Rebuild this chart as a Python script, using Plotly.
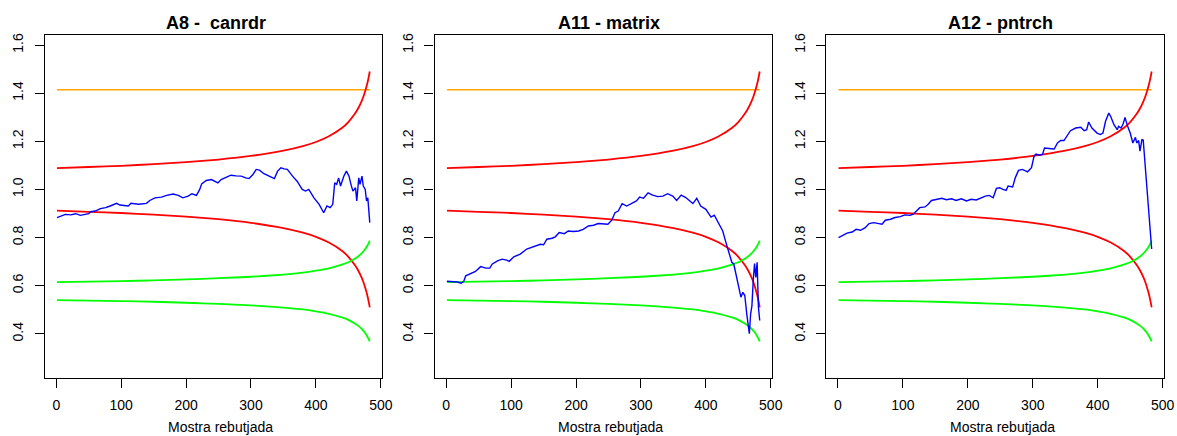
import plotly.graph_objects as go

# ---------------- data ----------------
panel_titles = ["A8 - \u00a0canrdr", "A11 - matrix", "A12 - pntrch"]
x_label = "Mostra rebutjada"

x_ticks = [0, 100, 200, 300, 400, 500]
y_ticks = [0.4, 0.6, 0.8, 1.0, 1.2, 1.4, 1.6]
y_tick_labels = ["0.4", "0.6", "0.8", "1.0", "1.2", "1.4", "1.6"]

# reference (orange) level
ref_x = [1, 483]
ref_y = [1.414, 1.414]

# band curves (same in every panel)
band_x = [1, 50, 100, 150, 200, 250, 300, 350, 380, 400,
          420, 440, 450, 460, 465, 470, 473, 476, 479, 481, 483]
red_upper = [1.088, 1.093, 1.098, 1.105, 1.113, 1.124, 1.139, 1.161, 1.180, 1.197,
             1.221, 1.255, 1.280, 1.314, 1.336, 1.364, 1.384, 1.409, 1.438, 1.462, 1.490]
red_lower = [0.912, 0.907, 0.902, 0.895, 0.887, 0.876, 0.861, 0.839, 0.820, 0.803,
             0.779, 0.745, 0.720, 0.686, 0.664, 0.636, 0.616, 0.591, 0.562, 0.538, 0.510]
green_upper = [0.615, 0.617, 0.619, 0.622, 0.626, 0.631, 0.637, 0.646, 0.654, 0.662,
               0.672, 0.687, 0.697, 0.712, 0.721, 0.733, 0.742, 0.752, 0.765, 0.775, 0.787]
green_lower = [0.540, 0.538, 0.536, 0.533, 0.529, 0.524, 0.518, 0.509, 0.501, 0.493,
               0.483, 0.468, 0.458, 0.443, 0.434, 0.422, 0.413, 0.403, 0.390, 0.380, 0.368]

# blue series, A8 - canrdr
a8_x = [1, 7, 14, 22, 30, 37, 45, 50, 53, 60,
        68, 76, 83, 93, 98, 111, 115, 127, 139, 144,
        152, 162, 170, 180, 188, 195, 203, 209, 216, 221,
        224, 231, 239, 244, 249, 254, 262, 269, 277, 285,
        292, 297, 303, 308, 313, 320, 328, 336, 341, 346,
        351, 356, 364, 371, 379, 384, 389, 397, 405, 412,
        417, 422, 426, 429, 432, 435, 438, 443, 447, 451,
        454, 457, 461, 463, 466, 468, 471, 473, 476, 478,
        480, 483]
a8_y = [0.883, 0.888, 0.896, 0.894, 0.899, 0.892, 0.896, 0.899, 0.907, 0.910,
        0.920, 0.924, 0.931, 0.942, 0.935, 0.931, 0.942, 0.938, 0.942, 0.954,
        0.965, 0.968, 0.975, 0.981, 0.975, 0.965, 0.972, 0.982, 0.975, 1.000,
        1.023, 1.037, 1.041, 1.034, 1.027, 1.041, 1.051, 1.059, 1.056, 1.055,
        1.048, 1.045, 1.062, 1.083, 1.080, 1.065, 1.055, 1.045, 1.076, 1.090,
        1.085, 1.083, 1.055, 1.034, 1.000, 0.993, 1.000, 0.965, 0.938, 0.903,
        0.931, 0.924, 0.938, 1.027, 1.021, 1.048, 1.014, 1.055, 1.076, 1.055,
        1.021, 0.993, 1.007, 0.952, 1.048, 1.021, 1.055, 1.014, 1.000, 0.952,
        0.965, 0.862]

# blue series, A11 - matrix
a11_x = [1, 10, 17, 23, 27, 30, 38, 45, 53, 61,
         67, 71, 79, 86, 93, 97, 104, 114, 124, 135,
         145, 150, 155, 163, 168, 174, 182, 188, 196, 204,
         211, 219, 227, 234, 242, 249, 255, 260, 265, 271,
         278, 285, 293, 298, 304, 311, 318, 326, 334, 341,
         349, 355, 362, 369, 380, 386, 392, 400, 408, 413,
         418, 426, 431, 436, 440, 443, 447, 451, 454, 457,
         460, 463, 467, 469, 471, 473, 475, 477, 479, 481,
         483]
a11_y = [0.618, 0.618, 0.615, 0.610, 0.618, 0.641, 0.651, 0.659, 0.679, 0.673,
         0.673, 0.690, 0.703, 0.710, 0.706, 0.701, 0.720, 0.731, 0.752, 0.761,
         0.772, 0.770, 0.793, 0.797, 0.803, 0.821, 0.816, 0.827, 0.825, 0.827,
         0.834, 0.848, 0.851, 0.858, 0.858, 0.855, 0.872, 0.903, 0.910, 0.941,
         0.931, 0.941, 0.952, 0.968, 0.963, 0.986, 0.976, 0.970, 0.972, 0.982,
         0.972, 0.954, 0.976, 0.966, 0.941, 0.963, 0.931, 0.917, 0.885, 0.893,
         0.869, 0.827, 0.779, 0.738, 0.697, 0.690, 0.634, 0.593, 0.552, 0.572,
         0.559, 0.483, 0.400, 0.483, 0.517, 0.621, 0.692, 0.634, 0.697, 0.510,
         0.455]

# blue series, A12 - pntrch
a12_x = [1, 7, 14, 22, 28, 35, 42, 48, 55, 63,
         68, 73, 81, 88, 96, 103, 111, 116, 121, 126,
         134, 139, 144, 152, 160, 167, 175, 182, 190, 198,
         205, 213, 220, 227, 233, 239, 244, 249, 254, 259,
         262, 269, 273, 278, 284, 292, 298, 302, 305, 310,
         315, 318, 325, 333, 338, 343, 348, 354, 358, 366,
         374, 379, 383, 386, 391, 399, 404, 408, 412, 417,
         420, 425, 430, 432, 436, 439, 442, 446, 450, 454,
         458, 460, 463, 465, 468, 470, 474, 477, 480, 483]
a12_y = [0.800, 0.807, 0.818, 0.823, 0.834, 0.830, 0.841, 0.858, 0.862, 0.858,
         0.855, 0.872, 0.876, 0.883, 0.887, 0.894, 0.892, 0.897, 0.910, 0.924,
         0.927, 0.938, 0.954, 0.959, 0.963, 0.957, 0.961, 0.954, 0.961, 0.952,
         0.959, 0.956, 0.965, 0.972, 0.975, 0.965, 1.004, 1.007, 1.000, 0.996,
         1.014, 1.010, 1.048, 1.079, 1.083, 1.073, 1.090, 1.138, 1.147, 1.142,
         1.145, 1.172, 1.170, 1.168, 1.193, 1.203, 1.203, 1.225, 1.244, 1.255,
         1.258, 1.244, 1.248, 1.280, 1.255, 1.234, 1.228, 1.234, 1.283, 1.317,
         1.303, 1.269, 1.248, 1.262, 1.255, 1.272, 1.299, 1.262, 1.234, 1.193,
         1.216, 1.193, 1.203, 1.159, 1.207, 1.205, 1.060, 0.950, 0.850, 0.752]

blue_series = [(a8_x, a8_y), (a11_x, a11_y), (a12_x, a12_y)]

# ---------------- layout constants ----------------
W, H = 1177, 436
FONT = "Liberation Sans, Arial, Helvetica, sans-serif"
box_left = [45.0, 438.3, 833.3]
box_right = [385.7, 779.0, 1174.3]
box_top, box_bottom = 33.3, 377.3
title_cx = [217.5, 613.8, 1008.8]
xlab_cx = [222.8, 615.3, 1011.3]

fig = go.Figure()

for i in range(3):
    xa = "x" if i == 0 else f"x{i+1}"
    ya = "y" if i == 0 else f"y{i+1}"
    common = dict(xaxis=xa, yaxis=ya, mode="lines", showlegend=False, hoverinfo="skip")
    fig.add_trace(go.Scatter(x=ref_x, y=ref_y, line=dict(color="#FFA500", width=1.5), **common))
    fig.add_trace(go.Scatter(x=band_x, y=red_upper, line=dict(color="#FF0000", width=1.8, shape="spline", smoothing=0.6), **common))
    fig.add_trace(go.Scatter(x=band_x, y=red_lower, line=dict(color="#FF0000", width=1.8, shape="spline", smoothing=0.6), **common))
    fig.add_trace(go.Scatter(x=band_x, y=green_upper, line=dict(color="#00FF00", width=1.8, shape="spline", smoothing=0.6), **common))
    fig.add_trace(go.Scatter(x=band_x, y=green_lower, line=dict(color="#00FF00", width=1.8, shape="spline", smoothing=0.6), **common))
    bx, by = blue_series[i]
    fig.add_trace(go.Scatter(x=bx, y=by, line=dict(color="#0000FF", width=1.4), **common))

    axis_common = dict(
        showline=True, mirror=True, linecolor="black", linewidth=1.2,
        ticks="outside", ticklen=9, tickwidth=1, tickcolor="black",
        showgrid=False, zeroline=False,
        tickfont=dict(family=FONT, size=14, color="black"),
    )
    xkey = "xaxis" if i == 0 else f"xaxis{i+1}"
    ykey = "yaxis" if i == 0 else f"yaxis{i+1}"
    fig.update_layout({
        xkey: dict(domain=[box_left[i] / W, box_right[i] / W], anchor=ya,
                   range=[-18, 502.5], tickvals=x_ticks, ticklabelstandoff=6, **axis_common),
        ykey: dict(domain=[1 - box_bottom / H, 1 - box_top / H], anchor=xa,
                   range=[0.218, 1.641], tickvals=y_ticks, ticktext=y_tick_labels,
                   tickangle=-90, ticklabelstandoff=6, **axis_common),
    })
    fig.add_annotation(text=f"<b>{panel_titles[i]}</b>", xref="paper", yref="paper",
                       x=title_cx[i] / W, y=1 - 20.7 / H, xanchor="center", yanchor="middle",
                       showarrow=False, font=dict(family=FONT, size=18, color="black"))
    fig.add_annotation(text=x_label, xref="paper", yref="paper",
                       x=xlab_cx[i] / W, y=1 - 427 / H, xanchor="center", yanchor="middle",
                       showarrow=False, font=dict(family=FONT, size=14, color="black"))

fig.update_layout(width=W, height=H, margin=dict(l=0, r=0, t=0, b=0),
                  paper_bgcolor="white", plot_bgcolor="white", showlegend=False)

fig.write_html("out.html")
